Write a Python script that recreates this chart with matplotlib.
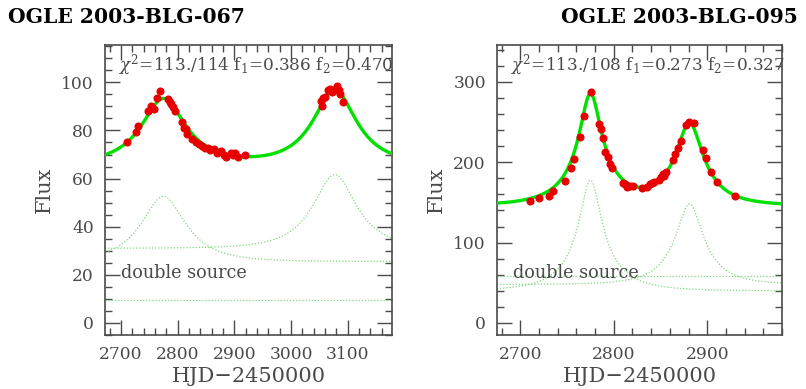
import numpy as np
import matplotlib
matplotlib.use("Agg")
import matplotlib.pyplot as plt
from matplotlib.ticker import MultipleLocator

plt.rcParams["mathtext.fontset"] = "dejavuserif"

# ---------------- data: OGLE 2003-BLG-067 ----------------
t_067 = [2710, 2726, 2730.5, 2747.6, 2753.4, 2758, 2764, 2768.7, 2782.8, 2786.3,
         2789, 2791.6, 2795, 2808, 2811, 2814, 2817, 2825.6, 2831.6, 2837.4,
         2843.3, 2849, 2853.8, 2858, 2864, 2869.7, 2875.7, 2881.5, 2884.5, 2893.3,
         2897.4, 2902, 2906.2, 2919.7,
         3053, 3054.8, 3056.5, 3060.7, 3065.3, 3069.5, 3072.3, 3076.6, 3081, 3084,
         3087, 3091]
f_067 = [75.3, 79.5, 82.0, 88.2, 90.3, 88.9, 93.5, 96.2, 92.9, 91.7,
         91.0, 89.6, 87.9, 83.3, 81.2, 80.5, 78.4, 76.3, 75.3, 74.2,
         73.5, 72.5, 72.8, 71.7, 72.1, 70.7, 71.4, 70.0, 68.9, 70.7,
         70.0, 70.7, 68.9, 69.7,
         92.4, 90.3, 93.5, 94.1, 96.6, 97.1, 95.9, 96.9, 98.3, 96.9,
         95.2, 92.0]
# model parameters: [t0, u0, tE, source flux]
src1_067 = [2775, 0.535, 77.7, 25.5]
src2_067 = [3077, 0.56, 73.5, 31.0]
blend_067 = 9.5
label_067 = r"$\chi^2$=113./114 f$_1$=0.386 f$_2$=0.470"

# ---------------- data: OGLE 2003-BLG-095 ----------------
t_095 = [2710, 2720.3, 2730.3, 2735, 2748, 2754.5, 2757.8, 2763.5, 2767.8, 2775.6,
         2783.8, 2786, 2788, 2791, 2793.4, 2795.5, 2797.7, 2809.8, 2811.6, 2814,
         2817, 2820.5, 2830, 2835.5, 2838.3, 2840.8, 2843.3, 2848, 2850.8, 2852.6,
         2854, 2856, 2863, 2865.8, 2868.7, 2871.8, 2877.5, 2880, 2885.3, 2895,
         2899, 2904.3, 2910.4, 2930]
f_095 = [151.7, 155.1, 158.4, 164.2, 176.6, 193.2, 204.0, 231.0, 257.0, 287.0,
         247.5, 240.9, 230.5, 212.3, 206.0, 197.8, 192.4, 173.7, 172.9, 169.5,
         170.4, 170.4, 168.3, 169.5, 172.5, 173.7, 175.7, 177.9, 181.2, 185.3,
         182.8, 188.2, 202.7, 209.8, 217.2, 226.7, 246.3, 250.4, 249.2, 215.2,
         204.8, 187.4, 175.0, 158.0]
src1_095 = [2775, 0.229, 52.8, 39.9]
src2_095 = [2881, 0.336, 43.8, 47.8]
blend_095 = 58.5
label_095 = r"$\chi^2$=113./108 f$_1$=0.273 f$_2$=0.327"

titles = ["OGLE 2003-BLG-067", "OGLE 2003-BLG-095"]
xlims = [(2672, 3178), (2675, 2980)]
ylims = [(-5, 115.5), (-15, 346)]
yminor = [5, 20]
yticks = [[0, 20, 40, 60, 80, 100], [0, 100, 200, 300]]
xticks = [[2700, 2800, 2900, 3000, 3100], [2700, 2800, 2900]]


def magnification(t, t0, u0, tE):
    u = np.sqrt(u0 ** 2 + ((t - t0) / tE) ** 2)
    return (u ** 2 + 2) / (u * np.sqrt(u ** 2 + 4))


GRAY = "#4a4a4a"
GREEN = "#00e000"
DOT = "#7fd97f"
RED = "#e80000"
SERIF = ["DejaVu Serif"]

fig = plt.figure(figsize=(8.06, 3.89), dpi=100)
rects = [[105 / 806, 54 / 389, 287 / 806, 290 / 389],
         [497 / 806, 54 / 389, 285 / 806, 290 / 389]]

panels = [(t_067, f_067, src1_067, src2_067, blend_067, label_067),
          (t_095, f_095, src1_095, src2_095, blend_095, label_095)]

for i, (tt, ff, s1, s2, fb, lab) in enumerate(panels):
    ax = fig.add_axes(rects[i])
    tm = np.linspace(xlims[i][0], xlims[i][1], 800)
    c1 = s1[3] * magnification(tm, s1[0], s1[1], s1[2])
    c2 = s2[3] * magnification(tm, s2[0], s2[1], s2[2])
    total = c1 + c2 + fb
    ax.plot(tm, c1, ls=(0, (1, 1.5)), color=DOT, lw=0.9)
    ax.plot(tm, c2, ls=(0, (1, 1.5)), color=DOT, lw=0.9)
    ax.plot(tm, np.full_like(tm, fb), ls=(0, (1, 1.5)), color=DOT, lw=0.9)
    ax.plot(tm, total, color=GREEN, lw=2.4, zorder=3)
    ax.plot(tt, ff, "o", color=RED, ms=4.8, mec=RED, zorder=4)

    ax.set_xlim(*xlims[i])
    ax.set_ylim(*ylims[i])
    ax.set_xticks(xticks[i])
    ax.set_yticks(yticks[i])
    ax.xaxis.set_minor_locator(MultipleLocator(20))
    ax.yaxis.set_minor_locator(MultipleLocator(yminor[i]))
    ax.tick_params(which="both", direction="in", top=True, right=True,
                   color=GRAY, width=1.0)
    ax.tick_params(which="major", length=11, labelsize=12.3, labelcolor=GRAY, pad=8)
    ax.tick_params(which="minor", length=5)
    for lbl in ax.get_xticklabels() + ax.get_yticklabels():
        lbl.set_family(SERIF)
    for sp in ax.spines.values():
        sp.set_color(GRAY)
        sp.set_linewidth(1.2)

    ax.set_ylabel("Flux", fontsize=15, color=GRAY, family=SERIF, labelpad=5)
    ax.set_xlabel("HJD\u22122450000", fontsize=15, color=GRAY, family=SERIF, labelpad=3)
    ax.text(0.05, 0.93, lab, transform=ax.transAxes, fontsize=12.2, color=GRAY,
            family=SERIF, va="center", ha="left", clip_on=False)
    ax.text(0.055, 0.215, "double source", transform=ax.transAxes, fontsize=12.7,
            color=GRAY, family=SERIF, va="center", ha="left")

fig.text(8 / 806, 1 - 17 / 389, titles[0], fontsize=14.6, fontweight="bold",
         family=SERIF, va="center", ha="left")
fig.text(798 / 806, 1 - 17 / 389, titles[1], fontsize=14.6, fontweight="bold",
         family=SERIF, va="center", ha="right")

fig.savefig("out.png", dpi=100)
